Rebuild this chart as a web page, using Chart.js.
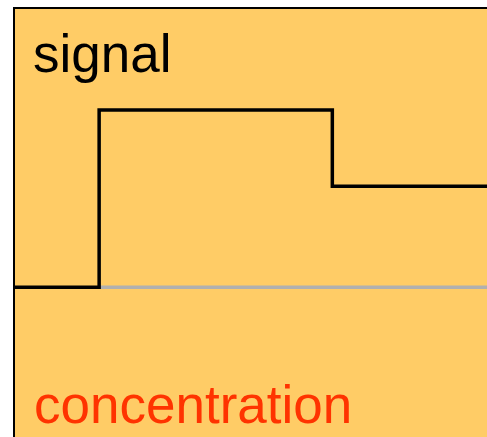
<!DOCTYPE html>
<html>
<head>
<meta charset="utf-8">
<script src="https://cdn.jsdelivr.net/npm/chart.js@4/dist/chart.umd.min.js"></script>
<style>
  html, body { margin: 0; padding: 0; background: #fff; }
  #wrap { width: 487px; height: 437px; }
</style>
</head>
<body>
<div id="wrap"><canvas id="c"></canvas></div>
<script>
// time points and values of the two traces
const signalTimes = [0, 1.8, 6.73, 10];
const signalValues = [0, 1, 0.57, 0.57];
const concTimes = [1.8, 10];
const concValues = [0, 0];

const labelTop = "signal";
const labelBottom = "concentration";

const toPoints = (xs, ys) => xs.map((x, i) => ({ x: x, y: ys[i] }));

/* panel background + border */
const panel = {
  id: "panel",
  beforeDraw(chart) {
    const { ctx, chartArea: a } = chart;
    ctx.save();
    ctx.fillStyle = "#ffcc66";
    ctx.fillRect(a.left, a.top, a.right - a.left, a.bottom - a.top);
    ctx.strokeStyle = "#000";
    ctx.lineWidth = 2;
    ctx.beginPath();
    ctx.moveTo(a.left, a.bottom);
    ctx.lineTo(a.left, a.top);
    ctx.lineTo(a.right, a.top);
    ctx.stroke();
    ctx.restore();
  },
  afterDraw(chart) {
    const { ctx } = chart;
    ctx.save();
    ctx.font = "53px 'Liberation Sans', Arial, sans-serif";
    ctx.textBaseline = "alphabetic";
    ctx.fillStyle = "#000";
    ctx.fillText(labelTop, 33, 72);
    ctx.fillStyle = "#ff3300";
    ctx.fillText(labelBottom, 34, 423);
    ctx.restore();
  }
};

new Chart(document.getElementById("c"), {
  type: "line",
  data: {
    datasets: [
      {
        label: "signal",
        data: toPoints(signalTimes, signalValues),
        stepped: true,
        borderColor: "#000",
        borderWidth: 3.5,
        pointRadius: 0,
        fill: false,
        clip: false,
        order: 0
      },
      {
        label: "concentration",
        data: toPoints(concTimes, concValues),
        borderColor: "#b0b0b0",
        borderWidth: 3.5,
        pointRadius: 0,
        fill: false,
        order: 1
      }
    ]
  },
  options: {
    responsive: true,
    maintainAspectRatio: false,
    animation: false,
    layout: { padding: { left: 14, top: 8, right: 0, bottom: 0 } },
    scales: {
      x: { type: "linear", min: 0, max: 10, display: false },
      y: { type: "linear", min: -0.844, max: 1.575, display: false }
    },
    plugins: {
      legend: { display: false },
      tooltip: { enabled: false }
    }
  },
  plugins: [panel]
});
</script>
</body>
</html>
